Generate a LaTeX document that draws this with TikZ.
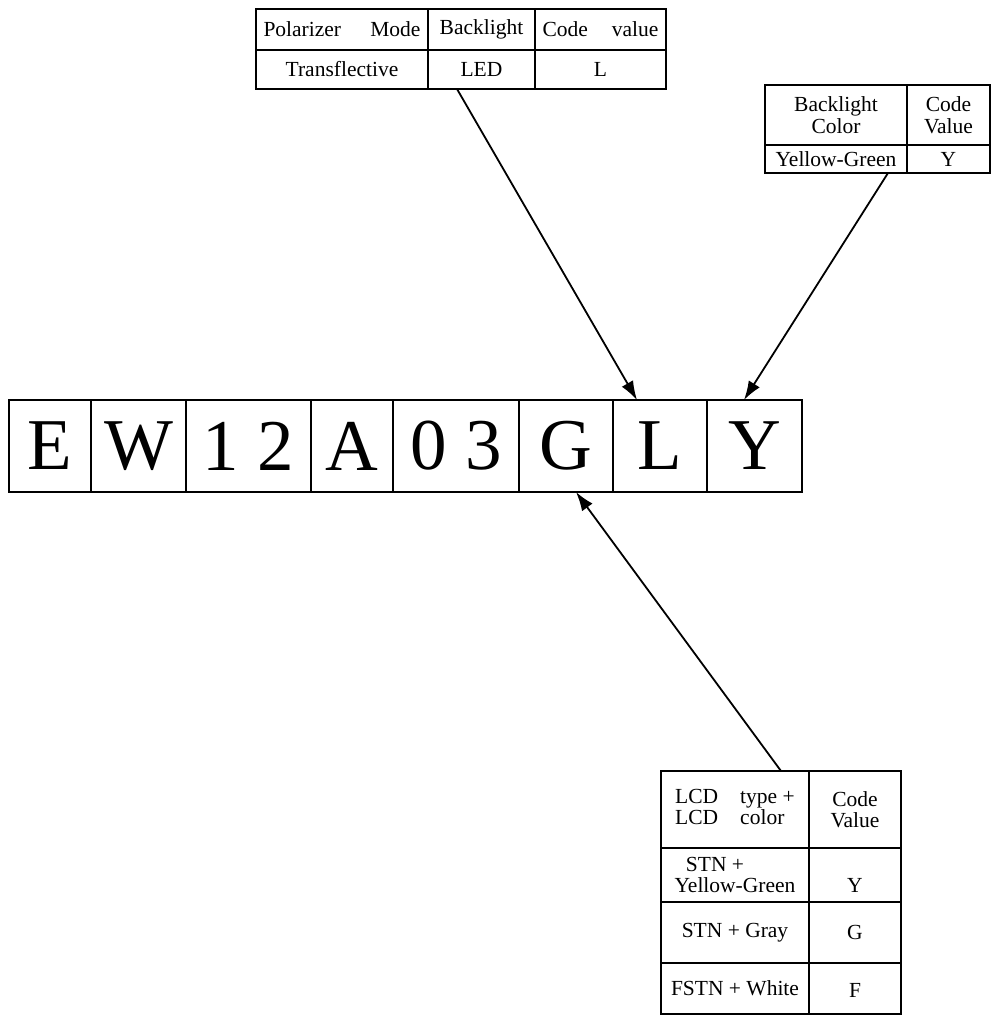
\documentclass[tikz,border=0pt]{standalone}
\usepackage{fontspec}
\setmainfont{Liberation Serif}
\usetikzlibrary{positioning,arrows.meta}

\begin{document}
\begin{tikzpicture}[x=1pt, y=-1pt, node distance=0pt, >={Latex[length=19pt,width=13pt]}]
	\tikzset{
		letter/.style={rectangle, draw=black, line width=2pt, outer sep=0pt, inner sep=0pt, minimum height=92pt, font=\fontsize{73}{73}\selectfont},
		cell/.style={rectangle, draw=black, line width=2pt, outer sep=0pt, inner sep=3pt, align=center, font=\fontsize{21.5}{21.5}\selectfont},
		arrow/.style={line width=1.8pt, ->},
	}
	\useasboundingbox (0,0) rectangle (1001,1023);
	%part number
	\node[letter, minimum width=82pt, anchor=north west] (letE) at (9,400) {E};
	\node[letter, minimum width=95pt, right=of letE] (letW) {W};
	\node[letter, minimum width=125pt, right=of letW] (let12) {1 2};
	\node[letter, minimum width=82pt, right=of let12] (letA) {A};
	\node[letter, minimum width=126pt, right=of letA] (let03) {0 3};
	\node[letter, minimum width=94pt, right=of let03] (letG) {G};
	\node[letter, minimum width=94pt, right=of letG] (letL) {L};
	\node[letter, minimum width=95pt, right=of letL] (letY) {Y};
	%polarizer table
	\node[cell, anchor=north west, minimum width=172pt, minimum height=41pt, text width=157pt] (polmode) at (256,9) {Polarizer\hfill Mode};
	\node[cell, right=of polmode, minimum width=107pt, minimum height=41pt] (backlight) {Backlight};
	\node[cell, right=of backlight, minimum width=131pt, minimum height=41pt, text width=116pt] (codeval) {Code\hfill value};
	\node[cell, below=of polmode, minimum width=172pt, minimum height=39pt] (transfl) {Transflective};
	\node[cell, below=of backlight, minimum width=107pt, minimum height=39pt] (led) {LED};
	\node[cell, below=of codeval, minimum width=131pt, minimum height=39pt] (lval) {L};
	%backlight color table
	\node[cell, anchor=north west, minimum width=142pt, minimum height=60pt] (blcolor) at (765,85) {Backlight\\Color};
	\node[cell, right=of blcolor, minimum width=83pt, minimum height=60pt] (blcode) {Code\\Value};
	\node[cell, below=of blcolor, minimum width=142pt, minimum height=28pt] (yelgreen) {Yellow-Green};
	\node[cell, below=of blcode, minimum width=83pt, minimum height=28pt] (yval) {Y};
	%lcd type table
	\node[cell, anchor=north west, minimum width=148pt, minimum height=77pt] (lcdtype) at (661,771) {\begin{tabular}{@{}l@{\hspace{22pt}}l@{}}LCD & type +\\LCD & color\end{tabular}};
	\node[cell, right=of lcdtype, minimum width=92pt, minimum height=77pt] (lcdcode) {Code\\Value};
	\node[cell, below=of lcdtype, minimum width=148pt, minimum height=54pt] (stnyg) {STN +\hspace*{40pt}\\Yellow-Green};
	\node[cell, below=of lcdcode, minimum width=92pt, minimum height=54pt, text height=35pt] (stnygval) {Y};
	\node[cell, below=of stnyg, minimum width=148pt, minimum height=61pt] (stngray) {STN + Gray};
	\node[cell, below=of stnygval, minimum width=92pt, minimum height=61pt] (stngrayval) {G};
	\node[cell, below=of stngray, minimum width=148pt, minimum height=51pt] (fstn) {FSTN + White};
	\node[cell, below=of stngrayval, minimum width=92pt, minimum height=51pt, text height=17pt] (fstnval) {F};
	%draw arrows
	\draw[arrow] ([xshift=29pt]led.south west) -- ([xshift=24pt]letL.north west);
	\draw[arrow] ([xshift=-19pt]yelgreen.south east) -- ([xshift=37pt]letY.north west);
	\draw[arrow] ([xshift=-28pt]lcdtype.north east) -- ([xshift=57pt]letG.south west);
\end{tikzpicture}
\end{document}
